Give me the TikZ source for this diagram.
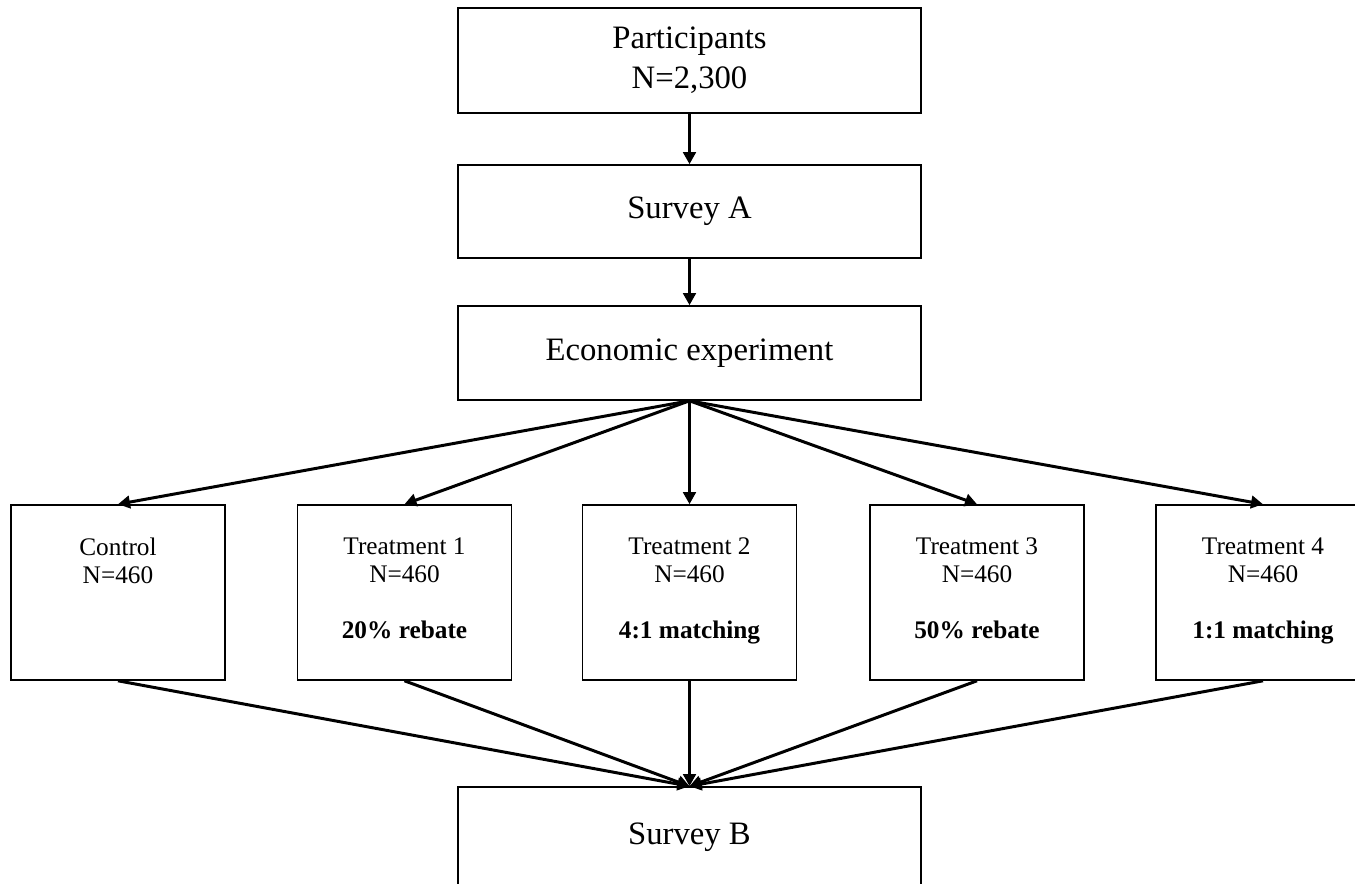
\documentclass[tikz,border=0pt]{standalone}
\usepackage{fontspec}
\setmainfont{Liberation Serif}
\usepackage{tikz}
\usetikzlibrary{arrows.meta}
\tikzset{
  farrow/.style={-{Triangle[length=0.24cm,width=0.25cm]}, line width=1.7pt},
  bigbox/.style={draw, line width=0.9pt, minimum width=9.26cm, inner sep=0pt,
    align=center, font=\fontsize{18.6}{22.7}\selectfont},
  armbox/.style={draw, line width=0.9pt, minimum width=4.28cm, minimum height=3.5cm, inner sep=0pt},
  armtext/.style={anchor=north, inner sep=0pt, align=center, font=\fontsize{14.4}{15.9}\selectfont}
}

\begin{document}
\begin{tikzpicture}[x=1cm, y=1cm]
    \useasboundingbox (0,0) rectangle (27.1,-17.66);
    \node[bigbox, minimum height=2.1cm] (part) at (13.79,-1.21) {Participants\\N=2,300};
    \node[bigbox, minimum height=1.86cm] (survA) at (13.79,-4.23) {Survey A};
    \node[bigbox, minimum height=1.88cm] (econ) at (13.79,-7.06) {Economic experiment};
    \node[armbox] (ctrl) at (2.36,-11.85) {};
    \node[armbox] (tr1) at (8.09,-11.85) {};
    \node[armbox] (tr2) at (13.79,-11.85) {};
    \node[armbox] (tr3) at (19.54,-11.85) {};
    \node[armbox] (tr4) at (25.26,-11.85) {};
    \node[armtext] (ctrlt) at ([yshift=-0.67cm]ctrl.north) {Control\\N=460};
    \node[armtext] (tr1t) at ([yshift=-0.67cm]tr1.north) {Treatment 1\\N=460\\[16pt]\textbf{20\% rebate}};
    \node[armtext] (tr2t) at ([yshift=-0.67cm]tr2.north) {Treatment 2\\N=460\\[16pt]\textbf{4:1 matching}};
    \node[armtext] (tr3t) at ([yshift=-0.67cm]tr3.north) {Treatment 3\\N=460\\[16pt]\textbf{50\% rebate}};
    \node[armtext] (tr4t) at ([yshift=-0.67cm]tr4.north) {Treatment 4\\N=460\\[16pt]\textbf{1:1 matching}};
    \node[bigbox, minimum height=2.0cm] (survB) at (13.79,-16.74) {Survey B};
    \draw[farrow] (part.south) -- (survA.north);
    \draw[farrow] (survA.south) -- (econ.north);
    \draw[farrow] (econ.south) -- (ctrl.north);
    \draw[farrow] (econ.south) -- (tr1.north);
    \draw[farrow] (econ.south) -- (tr2.north);
    \draw[farrow] (econ.south) -- (tr3.north);
    \draw[farrow] (econ.south) -- (tr4.north);
    \draw[farrow] (ctrl.south) -- (survB.north);
    \draw[farrow] (tr1.south) -- (survB.north);
    \draw[farrow] (tr2.south) -- (survB.north);
    \draw[farrow] (tr3.south) -- (survB.north);
    \draw[farrow] (tr4.south) -- (survB.north);
  \end{tikzpicture}
\end{document}
